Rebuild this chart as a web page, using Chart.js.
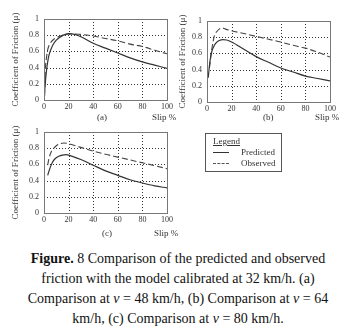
<!DOCTYPE html>
<html><head><meta charset="utf-8">
<script src="https://cdn.jsdelivr.net/npm/chart.js@4/dist/chart.umd.min.js"></script>
<style>
html,body{margin:0;padding:0;background:#fff;}
body{width:356px;height:332px;position:relative;overflow:hidden;font-family:"Liberation Serif","Times New Roman",serif;color:#222;}
canvas{position:absolute;}
.lbl{position:absolute;font-size:9px;line-height:10px;white-space:nowrap;color:#333;}
#legend{position:absolute;left:205px;top:133px;width:75px;height:37px;border:1px solid #555;font-size:9px;color:#333;}
#legend .t{position:absolute;left:7px;top:2px;text-decoration:underline;}
#legend .r{position:absolute;left:35px;}
#legend .ln{position:absolute;left:7px;width:16px;height:0;}
#cap{position:absolute;left:0;top:249px;width:356px;text-align:center;font-size:14px;line-height:20px;color:#111;}
</style></head>
<body>
<canvas id="ca"></canvas>
<canvas id="cb"></canvas>
<canvas id="cc"></canvas>
<div class="lbl" style="left:97px;top:112px;">(a)</div>
<div class="lbl" style="left:152px;top:112px;">Slip %</div>
<div class="lbl" style="left:263px;top:112px;">(b)</div>
<div class="lbl" style="left:315px;top:112px;">Slip %</div>
<div class="lbl" style="left:102px;top:228px;">(c)</div>
<div class="lbl" style="left:154px;top:228px;">Slip %</div>
<div id="legend">
  <div class="t">Legend</div>
  <div class="ln" style="top:18px;border-top:1px solid #333;"></div>
  <div class="r" style="top:13px;">Predicted</div>
  <div class="ln" style="top:29px;border-top:1px dashed #555;"></div>
  <div class="r" style="top:24px;">Observed</div>
</div>
<div id="cap"><b>Figure.</b> 8 Comparison of the predicted and observed<br>friction with the model calibrated at 32 km/h. (a)<br>Comparison at <i>v</i> = 48 km/h, (b) Comparison at <i>v</i> = 64<br>km/h, (c) Comparison at <i>v</i> = 80 km/h.</div>
<script>
// ---- data ----
const xTicks = [0, 20, 40, 60, 80, 100];
const yTicks = [0, 0.2, 0.4, 0.6, 0.8, 1];
const yTitle = 'Coefficient of Friction (\u03bc)';

const slipA_pred = [0, 1, 2, 3, 4, 5, 6, 8, 10, 15, 20, 25, 30, 40, 50, 60, 70, 80, 90, 100];
const muA_pred   = [0, 0.2, 0.36, 0.47, 0.55, 0.6, 0.64, 0.70, 0.74, 0.795, 0.82, 0.81, 0.78, 0.70, 0.64, 0.58, 0.52, 0.47, 0.43, 0.39];
const slipA_obs  = [0.5, 1, 2, 3, 4, 6, 8, 10, 15, 20, 30, 40, 50, 60, 70, 80, 90, 100];
const muA_obs    = [0.05, 0.35, 0.52, 0.62, 0.67, 0.72, 0.75, 0.77, 0.80, 0.815, 0.81, 0.79, 0.76, 0.73, 0.69, 0.66, 0.615, 0.57];

const slipB_pred = [1, 2, 3, 4, 6, 8, 10, 13, 16, 20, 30, 40, 50, 60, 70, 80, 90, 100];
const muB_pred   = [0.30, 0.45, 0.56, 0.63, 0.70, 0.74, 0.76, 0.77, 0.765, 0.74, 0.65, 0.56, 0.49, 0.42, 0.37, 0.32, 0.29, 0.26];
const slipB_obs  = [2, 3, 4, 5, 6, 8, 10, 12, 15, 20, 30, 40, 50, 60, 70, 80, 90, 100];
const muB_obs    = [0.42, 0.55, 0.66, 0.75, 0.82, 0.87, 0.90, 0.915, 0.90, 0.88, 0.845, 0.81, 0.775, 0.74, 0.70, 0.665, 0.615, 0.555];

const slipC_pred = [3, 5, 7, 9, 12, 15, 18, 20, 30, 40, 50, 60, 70, 80, 90, 100];
const muC_pred   = [0.465, 0.56, 0.63, 0.67, 0.70, 0.715, 0.72, 0.715, 0.66, 0.59, 0.52, 0.465, 0.41, 0.37, 0.335, 0.31];
const slipC_obs  = [3, 4, 6, 8, 10, 13, 16, 20, 30, 40, 50, 60, 70, 80, 90, 100];
const muC_obs    = [0.59, 0.67, 0.76, 0.80, 0.83, 0.855, 0.865, 0.855, 0.81, 0.765, 0.725, 0.69, 0.655, 0.62, 0.585, 0.547];

// ---- helpers ----
const pts = (xs, ys) => xs.map((x, i) => ({x: x, y: ys[i]}));
const frame = {
  id: 'frame',
  beforeDatasetsDraw(chart) {
    const a = chart.chartArea, c = chart.ctx;
    const xs = chart.scales.x, ys = chart.scales.y;
    c.save(); c.strokeStyle = '#333'; c.lineWidth = 1; c.setLineDash([1, 2]);
    xs.ticks.forEach(t => {
      const px = Math.round(xs.getPixelForValue(t.value)) + 0.5;
      c.beginPath(); c.moveTo(px, a.top); c.lineTo(px, a.bottom); c.stroke();
    });
    ys.ticks.forEach(t => {
      const py = Math.round(ys.getPixelForValue(t.value)) + 0.5;
      c.beginPath(); c.moveTo(a.left, py); c.lineTo(a.right, py); c.stroke();
    });
    c.restore();
  },
  afterDraw(chart) {
    const a = chart.chartArea, c = chart.ctx;
    c.save(); c.strokeStyle = '#777'; c.lineWidth = 1; c.setLineDash([]);
    c.strokeRect(Math.round(a.left) + 0.5, Math.round(a.top) + 0.5, Math.round(a.right - a.left), Math.round(a.bottom - a.top));
    c.restore();
  }
};

function makeChart(id, left, top, padTop, titlePad, sp, mp, so, mo) {
  const cv = document.getElementById(id);
  cv.style.left = left + 'px'; cv.style.top = top + 'px';
  cv.width = 176; cv.height = padTop + 81 + 12;
  cv.style.width = '176px'; cv.style.height = cv.height + 'px';
  new Chart(cv, {
    type: 'line',
    data: {
      datasets: [
        {label: 'Predicted', data: pts(sp, mp), borderColor: '#333', borderWidth: 1.2, pointRadius: 0, cubicInterpolationMode: 'monotone', fill: false},
        {label: 'Observed', data: pts(so, mo), borderColor: '#444', borderWidth: 1.1, borderDash: [6, 3], pointRadius: 0, cubicInterpolationMode: 'monotone', fill: false}
      ]
    },
    options: {
      responsive: false, animation: false, devicePixelRatio: 1,
      layout: {padding: {top: padTop, right: 9, left: 0, bottom: 0}},
      plugins: {legend: {display: false}, tooltip: {enabled: false}},
      scales: {
        x: {
          type: 'linear', min: 0, max: 100,
          afterBuildTicks: s => { s.ticks = xTicks.map(v => ({value: v})); },
          afterFit: s => { s.height = 12; },
          ticks: {font: {family: 'Liberation Serif', size: 8}, color: '#333', padding: 2, maxRotation: 0, autoSkip: false},
          grid: {display: false, drawTicks: false},
          border: {display: false}
        },
        y: {
          type: 'linear', min: 0, max: 1,
          afterBuildTicks: s => { s.ticks = yTicks.map(v => ({value: v})); },
          afterFit: s => { s.width = 44; },
          ticks: {font: {family: 'Liberation Serif', size: 8}, color: '#333', padding: 5, autoSkip: false, callback: v => String(v)},
          grid: {display: false, drawTicks: false},
          border: {display: false},
          title: {display: true, text: yTitle, font: {family: 'Liberation Serif', size: 9}, color: '#333', padding: {top: titlePad - 1, bottom: 0}}
        }
      }
    },
    plugins: [frame]
  });
}

makeChart('ca', 0, 0, 19, 11, slipA_pred, muA_pred, slipA_obs, muA_obs);
makeChart('cb', 163, 0, 21, 15, slipB_pred, muB_pred, slipB_obs, muB_obs);
makeChart('cc', 0, 113, 19, 11, slipC_pred, muC_pred, slipC_obs, muC_obs);
</script>
</body></html>
